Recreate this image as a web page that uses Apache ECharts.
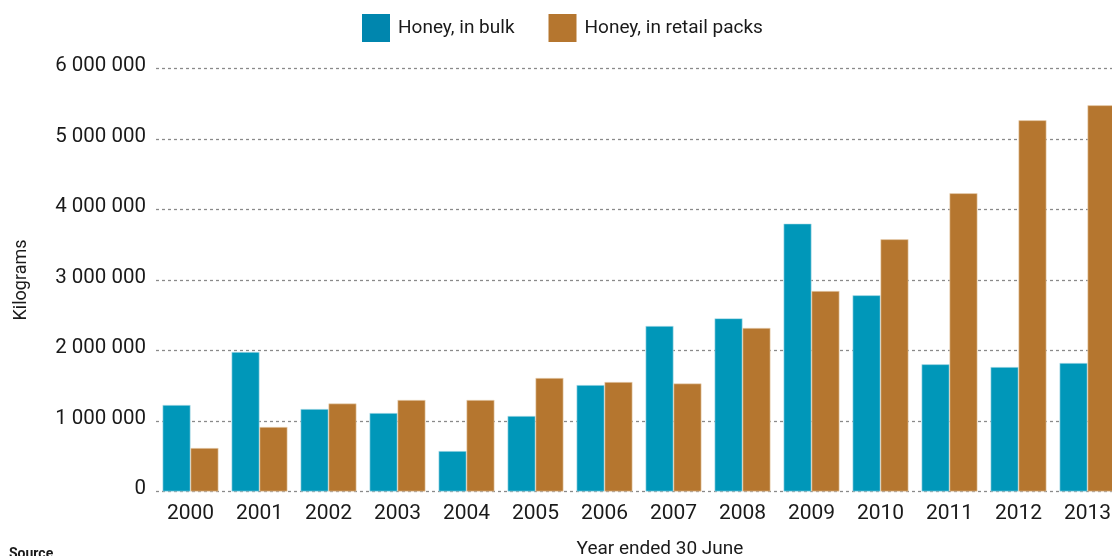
<!DOCTYPE html>
<html>
<head>
<meta charset="utf-8">
<script src="https://cdn.jsdelivr.net/npm/echarts@6/dist/echarts.min.js"></script>
<style>html,body{margin:0;padding:0;background:#fff;}#c{width:1112px;height:556px;}</style>
</head>
<body>
<div id="c"></div>
<script>
const years = ['2000','2001','2002','2003','2004','2005','2006','2007','2008','2009','2010','2011','2012','2013'];
const bulk = [1227000,1979000,1170000,1113000,574000,1071000,1510000,2348000,2456000,3800000,2783000,1804000,1766000,1823000];
const retail = [617000,915000,1248000,1298000,1298000,1610000,1553000,1532000,2320000,2844000,3577000,4230000,5265000,5478000];
const yTicks = [0,1000000,2000000,3000000,4000000,5000000,6000000];
const seriesNames = ['Honey, in bulk','Honey, in retail packs'];

const fmt = v => String(v).replace(/\B(?=(\d{3})+(?!\d))/g, ' ');
const chart = echarts.init(document.getElementById('c'));
chart.setOption({
  animation: false,
  textStyle: {fontFamily: 'Roboto'},
  legend: {
    top: 9, left: 357, itemWidth: 28, itemHeight: 28, itemGap: 34, icon: 'rect',
    textStyle: {fontSize: 19, color: '#1a1a1a', fontFamily: 'Roboto', padding: [0,0,0,3]},
    data: [
      {name: seriesNames[0], itemStyle: {color: '#0086ae', borderWidth: 0}},
      {name: seriesNames[1], itemStyle: {color: '#b5762f', borderWidth: 0}}
    ]
  },
  grid: {left: 156, right: -10, top: 68.5, bottom: 64.5, containLabel: false, outerBoundsMode: 'none'},
  xAxis: {
    type: 'category', data: years,
    axisLine: {show: false}, axisTick: {show: false},
    axisLabel: {fontSize: 21, color: '#1a1a1a', margin: 12},
    name: 'Year ended 30 June', nameLocation: 'middle', nameGap: 48,
    nameTextStyle: {fontSize: 19, color: '#1a1a1a', padding: [0,0,0,42]}
  },
  yAxis: {
    type: 'value', min: yTicks[0], max: yTicks[yTicks.length-1], interval: 1000000,
    axisLine: {show: false}, axisTick: {show: false},
    axisLabel: {fontSize: 20.5, color: '#1a1a1a', margin: 10, formatter: v => fmt(v), verticalAlign: 'bottom', padding: [0,0,-8,0]},
    splitLine: {lineStyle: {type: [3,3], color: '#8a8a8a', width: 1.3}},
    name: 'Kilograms', nameLocation: 'middle', nameGap: 126, nameRotate: 90,
    nameTextStyle: {fontSize: 18, color: '#1a1a1a'}
  },
  series: [
    {name: seriesNames[0], type: 'bar', data: bulk, barGap: '0%', barCategoryGap: '19%',
     itemStyle: {color: '#0097b9', borderColor: '#bfe3ec', borderWidth: 0.6}},
    {name: seriesNames[1], type: 'bar', data: retail, barGap: '0%', barCategoryGap: '19%',
     itemStyle: {color: '#b5762f', borderColor: '#ecd6bd', borderWidth: 0.6}}
  ],
  graphic: [{type: 'text', left: 9, top: 547, style: {text: 'Source', fontSize: 14, fontWeight: 'bold', fill: '#1a1a1a', fontFamily: 'Roboto'}}]
});
</script>
</body>
</html>
